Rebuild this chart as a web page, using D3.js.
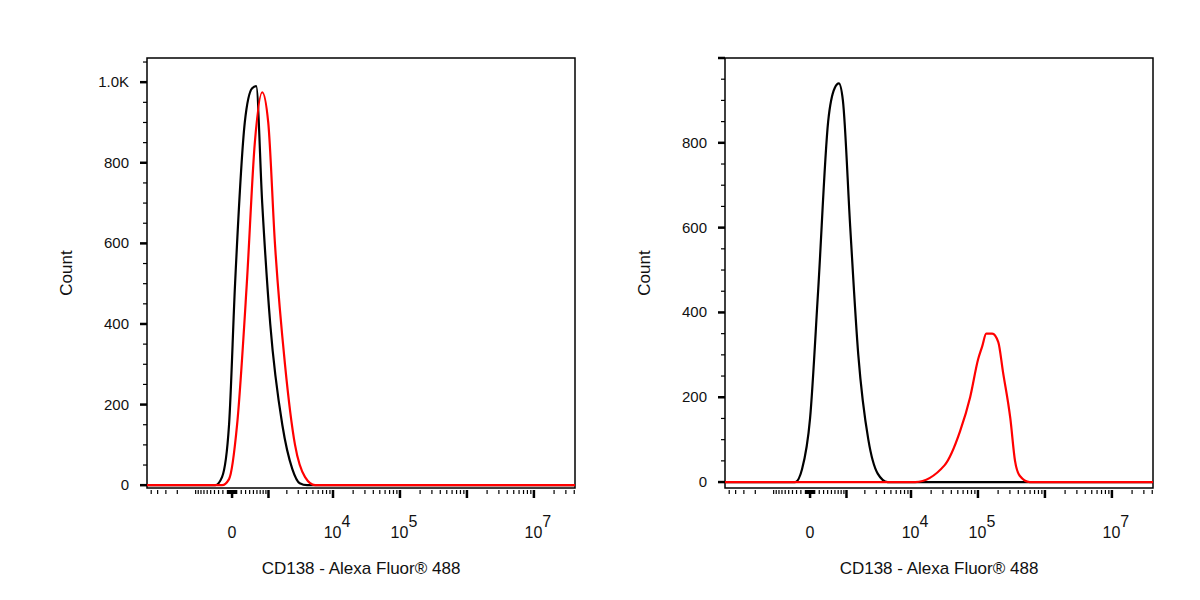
<!DOCTYPE html><html><head><meta charset="utf-8">
<script src="https://cdn.jsdelivr.net/npm/d3@7"></script>
<style>body{margin:0;background:#fff}text{font-family:Arial,"Liberation Sans",sans-serif;fill:#111}</style></head>
<body><svg id="c" width="1200" height="600"></svg><script>
// x values in display channel units (1 unit = 1 decade, 0 = zero intensity)
const leftBlackX=[-1.27,-0.25,-0.15,-0.045,0.045,0.19,0.30,0.36,0.45,0.57,0.75,0.90,1.01,1.12,5.12];
const leftBlackY=[0,0,20,150,500,900,985,990,700,400,150,40,5,0,0];
const leftRedX=[-1.27,-0.15,-0.045,0.075,0.22,0.34,0.45,0.54,0.64,0.79,0.94,1.09,1.24,5.12];
const leftRedY=[0,0,15,150,500,850,975,900,600,300,100,20,0,0];
const rightBlackX=[-1.27,-0.22,-0.12,0,0.12,0.27,0.37,0.43,0.49,0.60,0.72,0.87,1.01,1.16,5.12];
const rightBlackY=[0,0,30,150,450,850,930,940,900,600,300,100,20,0,0];
const rightRedX=[-1.27,1.57,2.01,2.24,2.39,2.51,2.57,2.63,2.72,2.81,2.88,2.99,3.06,3.13,3.28,5.12];
const rightRedY=[0,0,40,120,200,290,320,350,350,330,260,150,50,15,0,0];
const leftYTicks=[0,200,400,600,800,1000];
const leftYLabels=["0","200","400","600","800","1.0K"];
const rightYTicks=[0,200,400,600,800];
const xLabelExp=[null,4,5,7]; // labels: 0, 10^4, 10^5, 10^7
const xTitle="CD138 - Alexa Fluor® 488";
const W=623;
const ch=v=>Math.asinh(v/W)/Math.LN10;
const svg=d3.select("#c");
function panel(x0,x1,yMin,yMax,yt,yl,series){
  const top=58,bot=488;
  const x=d3.scaleLinear().domain([-1.27,5.12]).range([x0,x1]);
  const y=d3.scaleLinear().domain([yMin,yMax]).range([bot,top]);
  const g=svg.append("g");
  g.append("rect").attr("x",x0).attr("y",top).attr("width",x1-x0).attr("height",bot-top).attr("fill","none").attr("stroke","#000").attr("stroke-width",1.5);
  for(let v=0;v<=yMax;v+=50){const major=v%200===0;
    g.append("line").attr("x1",x0).attr("x2",x0-(major?7:4)).attr("y1",y(v)).attr("y2",y(v)).attr("stroke","#000").attr("stroke-width",major?2.5:1.2);}
  yt.forEach((v,i)=>g.append("text").attr("x",x0-18).attr("y",y(v)+5).attr("text-anchor","end").attr("font-size",15).text(yl[i]));
  g.append("text").attr("transform",`translate(${x0-75},${(top+bot)/2}) rotate(-90)`).attr("text-anchor","middle").attr("font-size",17).text("Count");
  const ticks=[];
  for(let n=1;n<=7;n++)for(let k=1;k<=9;k++){const v=k*Math.pow(10,n);ticks.push([v,k===1&&n>=3]);if(n<=3)ticks.push([-v,false]);}
  ticks.push([0,true]);
  ticks.forEach(([v,maj])=>{const c=ch(v);if(c<-1.27||c>5.12)return;
    g.append("line").attr("x1",x(c)).attr("x2",x(c)).attr("y1",bot+2).attr("y2",bot+(maj?10:6)).attr("stroke","#000").attr("stroke-width",maj?2.5:1.2);});
  xLabelExp.forEach(e=>{const c=e===null?0:ch(Math.pow(10,e));
    const t=g.append("text").attr("x",x(c)+(e===null?0:4)).attr("y",538).attr("text-anchor","middle").attr("font-size",16);
    if(e===null)t.text("0");else{t.append("tspan").text("10");t.append("tspan").attr("dy",-11).attr("font-size",16).text(e);}});
  g.append("text").attr("x",(x0+x1)/2).attr("y",574).attr("text-anchor","middle").attr("font-size",17).text(xTitle);
  const line=d3.line().x(d=>x(d[0])).y(d=>y(d[1])).curve(d3.curveMonotoneX);
  series.forEach(([xs,ys,col])=>g.append("path").attr("d",line(xs.map((v,i)=>[v,ys[i]]))).attr("fill","none").attr("stroke",col).attr("stroke-width",2.2));
}
panel(147,575,-7,1060,leftYTicks,leftYLabels,[[leftBlackX,leftBlackY,"#000"],[leftRedX,leftRedY,"#f00"]]);
panel(725,1153,-14,1000,rightYTicks,rightYTicks.map(String),[[rightBlackX,rightBlackY,"#000"],[rightRedX,rightRedY,"#f00"]]);
</script></body></html>
